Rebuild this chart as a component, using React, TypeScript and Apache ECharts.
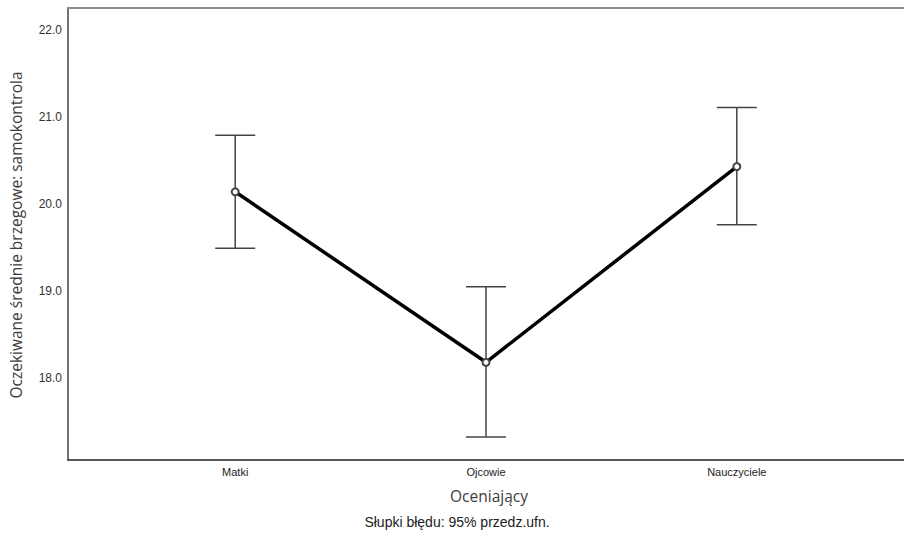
import React, { useEffect, useRef } from "react";
import * as echarts from "echarts";

const categories = ["Matki", "Ojcowie", "Nauczyciele"];
const means = [20.14, 18.18, 20.43];
const lower = [19.49, 17.32, 19.76];
const upper = [20.79, 19.05, 21.11];
const yTicks = [18, 19, 20, 21, 22];

export default function App() {
  const ref = useRef<HTMLDivElement>(null);
  useEffect(() => {
    if (!ref.current) return;
    const chart = echarts.init(ref.current, null, { renderer: "svg" });
    const font = "Liberation Sans, Arial, sans-serif";
    chart.setOption({
      animation: false,
      backgroundColor: "#ffffff",
      grid: { left: 68, top: 8, right: -3, bottom: 81, containLabel: false },
      xAxis: [
        {
          type: "value",
          min: -2 / 3,
          max: 2 + 2 / 3,
          position: "bottom",
          axisLine: { show: true, onZero: false, lineStyle: { color: "#222", width: 1.5 } },
          axisTick: { show: false },
          splitLine: { show: false },
          axisLabel: {
            customValues: [0, 1, 2],
            formatter: (v: number) => categories[Math.round(v)] ?? "",
            fontFamily: font,
            fontSize: 11,
            color: "#222",
            margin: 6,
          },
        },
        {
          type: "value",
          min: -2 / 3,
          max: 2 + 2 / 3,
          position: "top",
          axisLine: { show: true, onZero: false, lineStyle: { color: "#8a8a8a", width: 2 } },
          axisTick: { show: false },
          axisLabel: { show: false },
          splitLine: { show: false },
        },
      ],
      yAxis: {
        type: "value",
        min: 17.057,
        max: 22.253,
        axisLine: { show: true, onZero: false, lineStyle: { color: "#444", width: 1.5 } },
        axisTick: { show: false },
        splitLine: { show: false },
        axisLabel: {
          customValues: yTicks,
          formatter: (v: number) => v.toFixed(1),
          fontFamily: font,
          fontSize: 12,
          color: "#333",
          margin: 6,
        },
      },
      series: [
        {
          type: "custom",
          z: 2,
          data: categories.map((_, i) => [i, lower[i], upper[i]]),
          renderItem: (params: any, api: any) => {
            const x = api.value(0);
            const lo = api.coord([x, api.value(1)]);
            const hi = api.coord([x, api.value(2)]);
            const half = 20;
            const style = { stroke: "#444", lineWidth: 1.5 };
            return {
              type: "group",
              children: [
                { type: "line", shape: { x1: lo[0], y1: lo[1], x2: hi[0], y2: hi[1] }, style },
                { type: "line", shape: { x1: hi[0] - half, y1: hi[1], x2: hi[0] + half, y2: hi[1] }, style },
                { type: "line", shape: { x1: lo[0] - half, y1: lo[1], x2: lo[0] + half, y2: lo[1] }, style },
              ],
            };
          },
        },
        {
          type: "line",
          z: 3,
          data: categories.map((_, i) => [i, means[i]]),
          lineStyle: { color: "#000", width: 3.5 },
          symbol: "emptyCircle",
          symbolSize: 7,
          itemStyle: { color: "#444", borderColor: "#444", borderWidth: 1 },
        },
      ],
      graphic: [
        {
          type: "text",
          x: 16,
          y: 235,
          rotation: Math.PI / 2,
          style: {
            text: "Oczekiwane średnie brzegowe: samokontrola",
            font: "15.5px 'Open Sans', sans-serif",
            fill: "#3c3c3c",
            align: "center",
            verticalAlign: "middle",
          },
        },
        {
          type: "text",
          x: 489,
          y: 496,
          style: {
            text: "Oceniający",
            font: "15.5px 'Open Sans', sans-serif",
            fill: "#3c3c3c",
            align: "center",
            verticalAlign: "middle",
          },
        },
        {
          type: "text",
          x: 457,
          y: 522,
          style: {
            text: "Słupki błędu: 95% przedz.ufn.",
            font: "14px 'Liberation Sans', Arial, sans-serif",
            fill: "#222",
            align: "center",
            verticalAlign: "middle",
          },
        },
      ],
    });
    return () => chart.dispose();
  }, []);
  return (
    <div
      ref={ref}
      style={{ position: "absolute", left: 0, top: 0, width: 904, height: 541 }}
    />
  );
}
